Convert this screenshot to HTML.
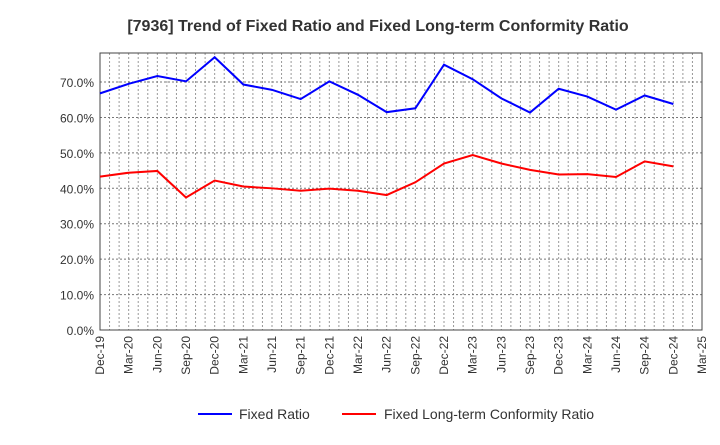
<!DOCTYPE html>
<html><head><meta charset="utf-8"><style>
body{margin:0;background:#fff;font-family:"Liberation Sans",sans-serif;}
</style></head><body>
<svg width="720" height="440" xmlns="http://www.w3.org/2000/svg" font-family="Liberation Sans, sans-serif">
<text x="378" y="31" text-anchor="middle" font-size="16" font-weight="bold" fill="#333">[7936]  Trend of Fixed Ratio and Fixed Long-term Conformity Ratio</text>
<g id="grid"></g>
<g id="axes"></g>
<g id="series"></g>
<g>
<line x1="198" y1="414" x2="232" y2="414" stroke="#0000ff" stroke-width="2"/>
<text x="239" y="419" font-size="14" fill="#333">Fixed Ratio</text>
<line x1="342" y1="414" x2="376" y2="414" stroke="#ff0000" stroke-width="2"/>
<text x="384" y="419" font-size="14" fill="#333">Fixed Long-term Conformity Ratio</text>
</g>
</svg>
<script>
const categories=["Dec-19","Mar-20","Jun-20","Sep-20","Dec-20","Mar-21","Jun-21","Sep-21","Dec-21","Mar-22","Jun-22","Sep-22","Dec-22","Mar-23","Jun-23","Sep-23","Dec-23","Mar-24","Jun-24","Sep-24","Dec-24","Mar-25"];
const fixedRatio=[66.8,69.5,71.7,70.2,77.0,69.3,67.8,65.2,70.2,66.4,61.5,62.6,74.9,70.8,65.4,61.4,68.1,65.9,62.2,66.2,63.8];
const fixedLongTerm=[43.3,44.4,44.9,37.4,42.2,40.5,40.0,39.3,39.9,39.3,38.1,41.7,47.0,49.4,47.0,45.2,43.9,44.0,43.2,47.6,46.2];
const yTicks=[0,10,20,30,40,50,60,70];
const X0=100,X1=702,Y0=330,Y1=53,YMAX=78.2;
const ns="http://www.w3.org/2000/svg";
const xs=i=>X0+(X1-X0)*i/(categories.length-1);
const ys=v=>Y0-(Y0-Y1)*v/YMAX;
function mk(t,a,p){const e=document.createElementNS(ns,t);for(const k in a)e.setAttribute(k,a[k]);p.appendChild(e);return e;}
const grid=document.getElementById('grid'),axes=document.getElementById('axes'),ser=document.getElementById('series');
const nm=(categories.length-1)*3;
for(let m=1;m<nm;m++){const x=X0+(X1-X0)*m/nm;
const l=mk('line',{x1:x,y1:Y1,x2:x,y2:Y0,stroke:'#999','stroke-dasharray':'2,2','stroke-width':1},grid);

}
yTicks.forEach(v=>{const y=ys(v);
if(v>0){const l=mk('line',{x1:X0,y1:y,x2:X1,y2:y,stroke:'#777','stroke-dasharray':'2,2','stroke-width':1},grid);

}
const t=mk('text',{x:X0-6,y:y+5,'text-anchor':'end','font-size':12,fill:'#333'},axes);t.textContent=v.toFixed(1)+'%';

});
categories.forEach((c,i)=>{const x=xs(i);
const t=mk('text',{x:x+4,y:Y0+6,'text-anchor':'end','font-size':12,fill:'#333',transform:`rotate(-90 ${x+4} ${Y0+6})`},axes);t.textContent=c;

});
const fr=mk('rect',{x:X0,y:Y1,width:X1-X0,height:Y0-Y1,fill:'none',stroke:'#444','stroke-width':1},axes);


function line(d,col,name){const p=mk('polyline',{points:d.map((v,i)=>xs(i)+','+ys(v)).join(' '),fill:'none',stroke:col,'stroke-width':2},ser);

}
line(fixedRatio,'#0000ff','fixed-ratio-line');
line(fixedLongTerm,'#ff0000','fixed-long-term-line');
</script>
</body></html>
